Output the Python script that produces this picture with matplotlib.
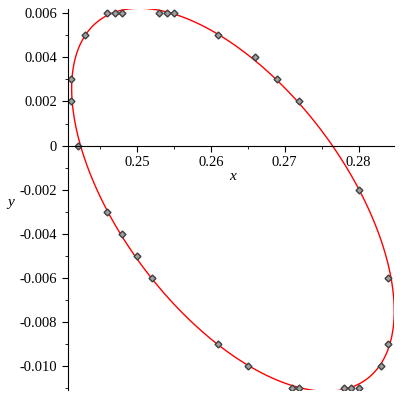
import numpy as np
import matplotlib.pyplot as plt

plt.rcParams['font.family'] = 'serif'
plt.rcParams['font.serif'] = ['Liberation Serif', 'DejaVu Serif']
plt.rcParams['axes.unicode_minus'] = False

# measured points
xs = [0.241, 0.241, 0.242, 0.243, 0.246, 0.247, 0.248, 0.253, 0.254, 0.255,
      0.261, 0.266, 0.269, 0.272, 0.280, 0.284, 0.284, 0.283, 0.280, 0.279,
      0.278, 0.272, 0.271, 0.265, 0.261, 0.252, 0.250, 0.248, 0.246]
ys = [0.003, 0.002, 0.000, 0.005, 0.006, 0.006, 0.006, 0.006, 0.006, 0.006,
      0.005, 0.004, 0.003, 0.002, -0.002, -0.006, -0.009, -0.010, -0.011, -0.011,
      -0.011, -0.011, -0.011, -0.010, -0.009, -0.006, -0.005, -0.004, -0.003]

xticks = [0.25, 0.26, 0.27, 0.28]
yticks = [-0.010, -0.008, -0.006, -0.004, -0.002, 0, 0.002, 0.004, 0.006]
ylabels = ['-0.010', '-0.008', '-0.006', '-0.004', '-0.002', '0', '0.002', '0.004', '0.006']

# least squares conic fit (scaled coordinates)
x = np.array(xs)
y = np.array(ys)
u = (x - 0.26) / 0.01
v = y / 0.005
M = np.column_stack([u * u, u * v, v * v, u, v, np.ones_like(u)])
coef = np.linalg.svd(M)[2][-1]

fig = plt.figure(figsize=(4, 4), dpi=100)
ax = fig.add_axes([0.169, 0.025, 0.816, 0.9525])

gx = np.linspace(0.238, 0.288, 600)
gy = np.linspace(-0.0125, 0.0075, 600)
GX, GY = np.meshgrid(gx, gy)
GU = (GX - 0.26) / 0.01
GV = GY / 0.005
F = (coef[0] * GU**2 + coef[1] * GU * GV + coef[2] * GV**2
     + coef[3] * GU + coef[4] * GV + coef[5])
ax.contour(GX, GY, F, levels=[0], colors='red', linewidths=1)

ax.plot(xs, ys, linestyle='none', marker='D', markersize=3.5,
        markerfacecolor='#a0a0a0', markeredgecolor='#404040', markeredgewidth=1)

ax.set_xlim(0.2406, 0.2848)
ax.set_ylim(-0.0111, 0.0062)

ax.spines['top'].set_visible(False)
ax.spines['right'].set_visible(False)
ax.spines['bottom'].set_position(('data', 0))

ax.set_xticks(xticks)
ax.set_xticklabels(['0.25', '0.26', '0.27', '0.28'])
ax.set_xticks([0.245, 0.255, 0.265, 0.275], minor=True)
ax.set_yticks(yticks)
ax.set_yticklabels(ylabels)
ax.set_yticks(np.arange(-0.011, 0.0065, 0.002), minor=True)
ax.tick_params(which='major', length=4, labelsize=10.5)
ax.tick_params(which='minor', length=2.5)

ax.text(0.263, -0.0014, 'x', style='italic', fontsize=11, ha='center', va='center')
ax.text(0.2329, -0.0026, 'y', style='italic', fontsize=11, ha='center', va='center',
        clip_on=False)

plt.savefig('out.png')
